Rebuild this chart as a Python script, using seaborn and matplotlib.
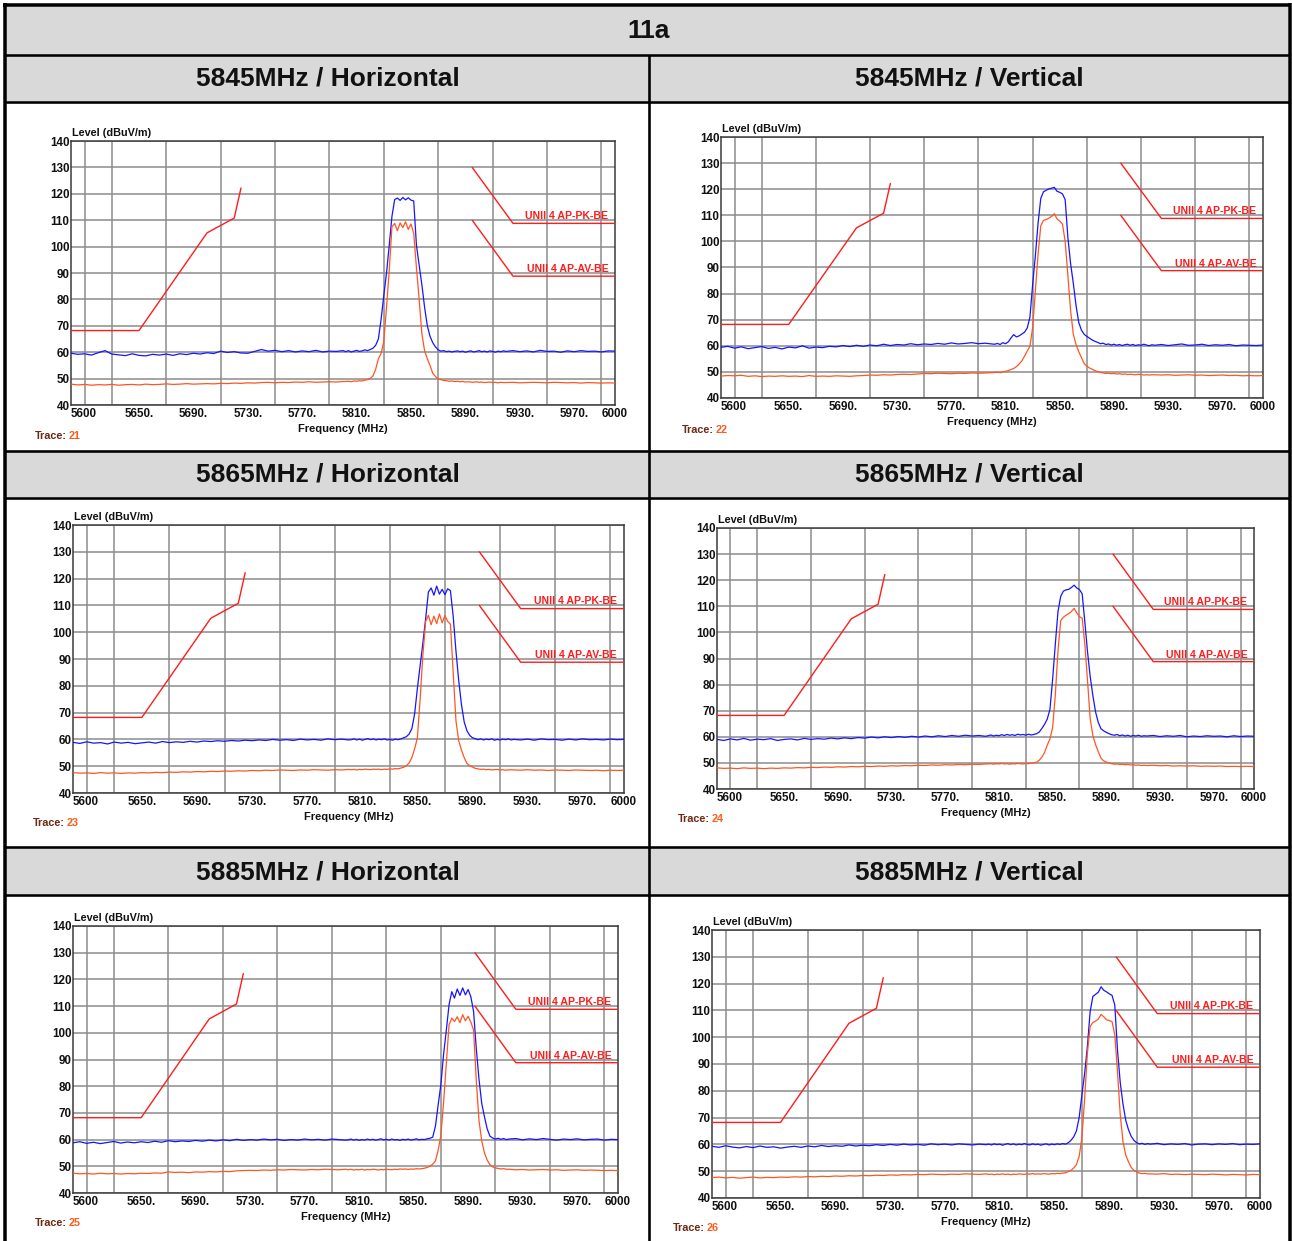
import numpy as np
import pandas as pd
import matplotlib
matplotlib.use("Agg")
import matplotlib.pyplot as plt
import seaborn as sns
from matplotlib.lines import Line2D
from matplotlib.patches import Rectangle

sns.set_theme(style="white")
plt.rcParams["font.family"] = ["Liberation Sans", "DejaVu Sans"]

# Sweep points: 5 MHz steps away from the channels, 2 MHz steps across them
FREQ = np.concatenate([np.arange(5600, 5801, 5),
                       np.arange(5802, 5919, 2),
                       np.arange(5920, 6001, 5)])

X_TICKS = [5600, 5650, 5690, 5730, 5770, 5810, 5850, 5890, 5930, 5970, 6000]
X_TICK_LABELS = ["5600", "5650.", "5690.", "5730.", "5770.", "5810.",
                 "5850.", "5890.", "5930.", "5970.", "6000"]
Y_TICKS = [40, 50, 60, 70, 80, 90, 100, 110, 120, 130, 140]

# Limit lines (dBuV/m)
EDGE_FREQ = [5600, 5650, 5700, 5720, 5725]
EDGE_LEVEL = [68.2, 68.2, 105.2, 110.8, 122.2]
PK_LIM_FREQ = [5895, 5925, 6000]
PK_LIM_LEVEL = [130.0, 108.8, 108.8]
AV_LIM_FREQ = [5895, 5925, 6000]
AV_LIM_LEVEL = [110.0, 88.8, 88.8]

# ---- 5845 MHz, horizontal ----
pk_5845_h = [59.6, 59.2, 59.4, 58.9, 59.8, 60.6, 59.3, 59.0, 58.7, 59.4, 58.8, 58.6, 59.2, 58.9, 59.3, 58.8, 59.4, 59.1, 59.6, 59.3,
             59.8, 59.5, 60.4, 59.9, 60.2, 59.7, 59.6, 60.3, 61.0, 60.4, 60.7, 60.2, 60.6, 60.1, 60.5, 60.2, 60.7, 60.1, 60.4, 60.3, 60.6,
             60.2, 60.6, 60.1, 60.4, 60.7, 60.3, 60.5, 60.9, 60.6, 61.0, 61.5, 62.6, 65.0, 72.4, 81.5, 90.0, 100.5, 111.5, 117.8, 118.4,
             117.5, 118.6, 117.7, 118.5, 117.6, 117.3, 100.5, 93.0, 85.5, 77.0, 70.0, 66.0, 63.6, 62.0, 60.9, 60.4, 60.6, 60.2, 60.4, 60.1,
             60.3, 60.5, 60.2, 60.4, 60.0, 60.3, 60.5, 60.1, 60.3, 60.6, 60.2, 60.4, 60.1, 60.5, 60.3, 60.0, 60.4, 60.2, 60.5,
             60.3, 60.6, 60.2, 60.5, 60.1, 60.7, 60.3, 60.4, 60.0, 60.5, 60.2, 60.6, 60.3, 60.4, 60.1, 60.5, 60.4]
av_5845_h = [47.9, 47.6, 47.8, 47.5, 47.7, 47.6, 47.8, 47.5, 47.7, 47.8, 47.6, 47.9, 47.7, 47.8, 48.0, 47.8, 47.9, 48.1, 47.9, 48.0,
             48.1, 48.0, 48.2, 48.1, 48.3, 48.2, 48.4, 48.3, 48.5, 48.6, 48.4, 48.6, 48.5, 48.7, 48.6, 48.8, 48.6, 48.7, 48.8, 48.7, 48.9,
             48.9, 49.0, 48.8, 49.1, 49.0, 49.2, 49.1, 49.4, 49.6, 50.0, 51.0, 53.5, 57.5, 59.5, 64.0, 77.0, 91.0, 107.5, 108.8, 106.0,
             109.0, 107.2, 109.4, 106.5, 108.6, 105.0, 92.0, 80.0, 67.0, 60.5, 57.5, 55.0, 52.0, 50.8, 49.8, 49.6, 49.3, 49.2, 49.0, 49.1,
             48.9, 49.0, 48.8, 48.9, 48.7, 48.8, 48.7, 48.6, 48.8, 48.6, 48.7, 48.5, 48.6, 48.7, 48.5, 48.6, 48.4, 48.6, 48.5,
             48.5, 48.6, 48.4, 48.5, 48.6, 48.5, 48.4, 48.6, 48.5, 48.4, 48.5, 48.3, 48.5, 48.4, 48.3, 48.4, 48.3]

# ---- 5845 MHz, vertical ----
pk_5845_v = [59.4, 59.8, 59.1, 59.6, 58.9, 59.3, 59.7, 59.0, 59.4, 58.8, 59.5, 59.2, 60.0, 59.1, 59.5, 59.3, 59.8, 59.6, 60.1, 59.7,
             60.2, 59.8, 60.3, 60.0, 60.6, 60.1, 60.5, 60.3, 60.8, 60.4, 60.7, 60.5, 60.9, 60.6, 61.1, 60.7, 60.9, 61.2, 60.8, 61.0, 60.7,
             60.6, 60.9, 60.5, 61.2, 60.8, 61.5, 63.0, 64.3, 63.4, 63.8, 64.5, 65.2, 66.8, 71.0, 83.5, 94.5, 107.0, 116.5, 119.0, 119.6,
             120.1, 120.4, 120.7, 119.2, 118.8, 118.2, 116.0, 101.5, 91.5, 84.0, 75.5, 69.0, 66.0, 64.4, 63.6, 62.9, 62.2, 61.7, 61.3, 60.8,
             61.0, 60.5, 60.7, 60.3, 60.6, 60.2, 60.5, 60.1, 60.4, 60.6, 60.2, 60.5, 60.1, 60.4, 60.2, 60.6, 60.3, 60.0, 60.4,
             60.2, 60.5, 60.1, 60.4, 60.7, 60.2, 60.3, 60.6, 60.1, 60.4, 60.2, 60.5, 60.0, 60.3, 60.2, 60.1, 60.3]
av_5845_v = [48.4, 48.6, 48.5, 48.7, 48.3, 48.5, 48.2, 48.4, 48.3, 48.5, 48.3, 48.4, 48.2, 48.6, 48.3, 48.4, 48.3, 48.5, 48.4, 48.3,
             48.5, 48.6, 48.8, 48.7, 48.9, 48.8, 49.0, 49.1, 49.0, 49.2, 49.4, 49.3, 49.5, 49.4, 49.3, 49.5, 49.4, 49.6, 49.5, 49.6, 49.7,
             49.8, 49.9, 49.7, 50.0, 50.2, 50.5, 50.9, 51.3, 52.0, 53.0, 54.2, 56.0, 58.0, 59.8, 67.0, 81.0, 95.0, 106.0, 108.0, 108.4,
             108.9, 109.6, 110.6, 108.6, 107.8, 106.6, 100.0, 87.0, 73.5, 64.5, 60.5, 57.8, 55.5, 53.2, 52.2, 51.5, 51.0, 50.5, 50.1, 49.8,
             49.6, 49.4, 49.5, 49.3, 49.4, 49.2, 49.3, 49.1, 49.2, 49.0, 49.1, 49.0, 48.9, 49.1, 49.0, 48.8, 48.9, 48.8, 48.9,
             48.9, 48.8, 48.9, 48.7, 48.8, 48.9, 48.7, 48.8, 48.6, 48.7, 48.8, 48.6, 48.7, 48.5, 48.6, 48.5, 48.6]

# ---- 5865 MHz, horizontal ----
pk_5865_h = [58.9, 58.5, 59.1, 58.6, 58.8, 58.3, 59.0, 58.6, 58.9, 58.4, 58.7, 59.0, 58.6, 59.2, 58.8, 59.1, 58.9, 59.3, 59.0, 59.4,
             59.2, 59.5, 59.3, 59.6, 59.4, 59.7, 59.5, 59.8, 59.6, 60.0, 59.7, 59.9, 59.6, 60.1, 59.8, 60.0, 59.7, 60.2, 59.9, 60.1, 59.8,
             59.9, 60.2, 59.8, 60.1, 59.7, 60.0, 60.3, 59.9, 60.2, 59.8, 60.1, 59.9, 60.2, 59.8, 60.0, 59.7, 60.1, 59.9, 60.2, 60.6,
             61.0, 62.0, 64.0, 69.5, 79.0, 87.5, 96.0, 105.0, 115.0, 116.5, 113.8, 117.2, 114.2, 116.0, 114.0, 116.2, 115.5, 106.0, 93.0, 82.0,
             73.0, 66.5, 63.2, 61.5, 60.6, 60.3, 59.9, 60.2, 59.8, 60.1, 59.9, 60.2, 59.7, 60.0, 59.8, 60.1, 59.9, 60.2, 59.8,
             60.0, 59.8, 60.1, 59.7, 60.2, 59.9, 60.0, 59.7, 60.1, 59.8, 60.2, 59.9, 60.0, 59.8, 60.1, 59.9, 60.0]
av_5865_h = [47.6, 47.4, 47.5, 47.3, 47.6, 47.4, 47.5, 47.3, 47.5, 47.4, 47.6, 47.5, 47.7, 47.6, 47.8, 47.7, 47.9, 47.8, 48.0, 47.9,
             48.1, 48.0, 48.2, 48.1, 48.3, 48.2, 48.4, 48.3, 48.5, 48.4, 48.6, 48.5, 48.4, 48.6, 48.5, 48.7, 48.6, 48.5, 48.7, 48.6, 48.8,
             48.7, 48.8, 48.6, 48.8, 48.7, 48.9, 48.8, 48.7, 48.9, 48.8, 48.9, 48.7, 48.9, 48.8, 49.0, 48.9, 49.1, 49.0, 49.3, 49.6,
             50.2, 51.2, 53.2, 56.5, 60.5, 75.0, 91.5, 104.0, 106.3, 102.8, 106.0, 103.2, 106.8, 103.5, 106.2, 104.0, 103.0, 85.0, 67.0, 59.5,
             56.0, 53.2, 51.0, 50.2, 49.7, 49.2, 49.0, 48.8, 48.9, 48.7, 48.8, 48.6, 48.7, 48.8, 48.6, 48.7, 48.5, 48.6, 48.7,
             48.6, 48.5, 48.7, 48.5, 48.6, 48.4, 48.6, 48.5, 48.4, 48.6, 48.5, 48.4, 48.5, 48.3, 48.5, 48.4, 48.5]

# ---- 5865 MHz, vertical ----
pk_5865_v = [59.0, 58.6, 59.2, 58.8, 59.4, 58.7, 59.1, 58.9, 59.3, 58.6, 59.0, 59.2, 58.8, 59.4, 59.0, 59.3, 59.1, 59.5, 59.2, 59.6,
             59.3, 59.7, 59.5, 59.9, 59.6, 60.0, 59.7, 60.1, 59.8, 60.2, 59.9, 60.3, 60.0, 60.4, 60.1, 60.5, 60.2, 60.6, 60.3, 60.5, 60.2,
             60.4, 60.7, 60.3, 60.6, 60.4, 60.8, 60.5, 60.9, 60.6, 60.8, 60.5, 61.0, 60.7, 60.9, 60.6, 61.0, 60.7, 60.9, 61.2, 61.8,
             63.2, 64.8, 66.8, 70.5, 82.0, 95.5, 108.0, 113.8, 115.8, 116.3, 116.5, 117.2, 118.1, 117.0, 116.4, 114.8, 104.0, 92.5, 83.0, 75.7,
             69.5, 65.5, 63.1, 62.3, 61.7, 61.2, 60.8, 60.6, 60.9, 60.4, 60.7, 60.3, 60.6, 60.2, 60.5, 60.3, 60.6, 60.2, 60.4,
             60.3, 60.5, 60.1, 60.4, 60.2, 60.5, 60.0, 60.3, 60.1, 60.4, 60.2, 60.3, 60.0, 60.4, 60.1, 60.3, 60.2]
av_5865_v = [48.1, 47.9, 48.0, 47.8, 48.1, 47.9, 48.0, 47.8, 48.0, 47.9, 48.1, 48.0, 48.2, 48.1, 48.3, 48.2, 48.4, 48.3, 48.5, 48.4,
             48.6, 48.5, 48.7, 48.6, 48.8, 48.7, 48.9, 48.8, 49.0, 48.9, 49.1, 49.0, 49.2, 49.1, 49.3, 49.2, 49.4, 49.3, 49.5, 49.4, 49.6,
             49.6, 49.7, 49.5, 49.7, 49.6, 49.8, 49.6, 49.7, 49.5, 49.7, 49.6, 49.8, 49.7, 49.6, 49.8, 49.7, 49.9, 50.0, 50.3, 51.0,
             52.2, 54.0, 56.8, 59.2, 63.5, 76.0, 93.0, 104.5, 105.8, 106.6, 107.2, 108.0, 109.2, 107.5, 106.0, 105.5, 95.5, 81.5, 66.8, 60.5,
             57.0, 54.3, 51.8, 50.8, 50.3, 49.9, 49.7, 49.5, 49.6, 49.4, 49.5, 49.3, 49.4, 49.2, 49.3, 49.1, 49.2, 49.0, 49.1,
             49.0, 49.1, 48.9, 49.0, 48.8, 48.9, 48.8, 48.9, 48.7, 48.8, 48.7, 48.8, 48.6, 48.7, 48.6, 48.7, 48.6]

# ---- 5885 MHz, horizontal ----
pk_5885_h = [58.8, 59.2, 58.6, 59.0, 58.5, 58.9, 59.3, 58.7, 59.1, 58.8, 59.2, 58.9, 59.4, 59.0, 59.6, 59.2, 59.5, 59.3, 59.7, 59.4,
             59.8, 59.5, 59.9, 59.6, 60.1, 59.7, 60.0, 59.8, 60.2, 59.9, 60.1, 59.7, 60.0, 59.8, 60.2, 59.9, 60.1, 59.8, 60.2, 60.0, 59.8,
             59.9, 60.2, 59.8, 60.1, 59.7, 60.0, 59.8, 60.2, 59.9, 60.1, 59.8, 60.0, 60.3, 59.9, 60.1, 59.8, 60.2, 59.9, 60.0, 59.7,
             60.1, 59.9, 60.2, 59.8, 60.0, 60.3, 59.9, 60.1, 60.0, 60.3, 60.5, 60.9, 65.0, 73.0, 80.6, 92.0, 101.0, 110.5, 115.4, 113.0,
             116.4, 114.0, 116.8, 114.2, 116.2, 113.5, 108.0, 94.0, 82.5, 73.5, 68.5, 64.0, 61.3, 60.6, 60.2, 60.5, 60.1, 60.4, 60.0,
             60.2, 60.4, 59.9, 60.3, 60.0, 60.4, 60.1, 59.8, 60.2, 60.0, 60.3, 59.9, 60.1, 60.2, 59.8, 60.1, 60.0]
av_5885_h = [47.4, 47.2, 47.3, 47.1, 47.4, 47.2, 47.3, 47.1, 47.3, 47.2, 47.4, 47.3, 47.5, 47.4, 47.9, 47.7, 47.8, 47.6, 47.9, 47.8,
             48.0, 47.9, 48.1, 48.0, 48.3, 48.4, 48.5, 48.4, 48.6, 48.5, 48.7, 48.6, 48.8, 48.7, 48.6, 48.8, 48.7, 48.9, 48.8, 48.7, 48.9,
             48.7, 48.9, 48.6, 48.8, 48.7, 48.9, 48.6, 48.8, 48.7, 48.9, 48.8, 48.6, 48.8, 48.7, 48.9, 48.8, 48.7, 48.9, 48.8, 49.0,
             48.9, 49.0, 48.8, 49.0, 48.9, 49.1, 49.0, 49.1, 49.3, 49.6, 50.0, 50.8, 52.0, 56.0, 61.5, 74.0, 88.5, 103.0, 105.5, 104.2,
             106.0, 103.8, 106.8, 104.5, 106.2, 104.0, 101.0, 82.0, 67.0, 59.5, 55.0, 52.3, 50.6, 49.8, 49.4, 49.2, 49.0, 49.1, 48.9,
             48.9, 48.7, 48.8, 48.6, 48.7, 48.8, 48.6, 48.7, 48.5, 48.6, 48.7, 48.5, 48.6, 48.5, 48.4, 48.5, 48.4]

# ---- 5885 MHz, vertical ----
pk_5885_v = [59.3, 58.9, 59.5, 59.0, 58.7, 59.2, 58.8, 59.4, 58.9, 59.1, 58.6, 59.0, 59.3, 58.9, 59.4, 59.1, 59.6, 59.2, 59.5, 59.3,
             59.8, 59.4, 59.7, 59.5, 59.9, 59.6, 60.0, 59.7, 60.1, 59.8, 60.0, 59.7, 60.2, 59.9, 60.1, 59.8, 60.2, 60.0, 59.8, 60.1, 59.9,
             60.1, 59.8, 60.2, 59.9, 60.1, 59.7, 60.0, 60.3, 59.9, 60.2, 59.8, 60.1, 59.9, 60.3, 60.0, 59.8, 60.2, 59.9, 60.1, 59.7,
             60.0, 60.2, 59.8, 60.1, 59.9, 60.2, 60.0, 60.3, 60.1, 60.6, 61.5, 62.8, 65.0, 70.0, 78.5, 86.5, 96.5, 109.5, 115.2, 116.0,
             116.8, 118.8, 117.5, 116.9, 116.2, 115.6, 112.0, 95.0, 83.0, 75.0, 69.0, 65.5, 63.0, 61.5, 60.6, 60.2, 60.4, 60.0, 60.3,
             60.1, 60.4, 59.9, 60.2, 60.0, 60.3, 59.8, 60.1, 60.2, 59.9, 60.2, 60.0, 60.3, 59.9, 60.1, 60.0, 60.2]
av_5885_v = [47.6, 47.8, 47.5, 47.7, 47.4, 47.6, 47.8, 47.5, 47.7, 47.6, 47.8, 47.7, 47.9, 47.8, 48.0, 47.9, 48.1, 48.0, 48.2, 48.1,
             48.3, 48.2, 48.4, 48.3, 48.5, 48.4, 48.6, 48.5, 48.7, 48.6, 48.8, 48.7, 48.9, 48.8, 48.7, 48.9, 48.8, 49.0, 48.9, 48.8, 49.0,
             48.8, 48.9, 48.7, 48.9, 48.8, 49.0, 48.8, 48.9, 48.7, 48.9, 48.8, 49.0, 48.9, 48.8, 49.0, 48.9, 49.1, 48.9, 49.0, 48.9,
             49.1, 49.0, 48.9, 49.1, 49.0, 49.2, 49.1, 49.3, 49.4, 49.8, 50.3, 51.2, 52.5, 55.5, 62.5, 77.0, 94.0, 104.0, 105.5, 106.0,
             106.8, 108.5, 107.6, 106.5, 106.2, 105.8, 101.0, 87.0, 71.0, 61.0, 56.0, 53.5, 51.4, 50.3, 49.7, 49.3, 49.1, 49.2, 49.0,
             49.0, 48.9, 49.1, 48.8, 48.9, 48.7, 48.9, 48.8, 48.7, 48.9, 48.8, 48.6, 48.8, 48.7, 48.6, 48.8, 48.7]

HEADERS = [["5845MHz / Horizontal", "5845MHz / Vertical"],
           ["5865MHz / Horizontal", "5865MHz / Vertical"],
           ["5885MHz / Horizontal", "5885MHz / Vertical"]]
TRACE_IDS = ["21", "22", "23", "24", "25", "26"]
PEAK_SERIES = [pk_5845_h, pk_5845_v, pk_5865_h, pk_5865_v, pk_5885_h, pk_5885_v]
AVG_SERIES = [av_5845_h, av_5845_v, av_5865_h, av_5865_v, av_5885_h, av_5885_v]

# Page geometry in pixels
W, H = 1292, 1241
AX_BOXES = [(71, 141, 615, 405), (721, 137, 1263, 398),
            (73, 525, 624, 793), (717, 528, 1254, 789),
            (73, 926, 618, 1193), (712, 930, 1260, 1198)]
TRACE_POS = [(35, 436), (682, 430), (33, 823), (678, 819), (35, 1223), (673, 1228)]

BLUE = "#1515ff"
ORANGE = "#ff5522"
RED = "#ff1c1c"
GRID = "#8c8c8c"
HEAD_FILL = "#d9d9d9"

fig = plt.figure(figsize=(W / 100, H / 100), dpi=100)
fig.patch.set_facecolor("white")


def fx(px):
    return px / W


def fy(py):
    return 1 - py / H


def hline(y, x0, x1, lw):
    fig.add_artist(Line2D([fx(x0), fx(x1)], [fy(y), fy(y)], color="black", lw=lw * 0.72,
                          transform=fig.transFigure, solid_capstyle="butt"))


def vline(x, y0, y1, lw):
    fig.add_artist(Line2D([fx(x), fx(x)], [fy(y0), fy(y1)], color="black", lw=lw * 0.72,
                          transform=fig.transFigure, solid_capstyle="butt"))


def band(y0, y1):
    fig.add_artist(Rectangle((fx(6), fy(y1)), fx(1288) - fx(6), fy(y0) - fy(y1),
                             transform=fig.transFigure, facecolor=HEAD_FILL, edgecolor="none", zorder=0))


# Table: title band, three header bands, borders
band(6, 54)
for y0, y1 in [(56, 101), (452, 497), (848, 894)]:
    band(y0, y1)

hline(5, 3, 1291, 3.5)
for y in [55, 102, 451, 497.5, 847, 895]:
    hline(y, 5, 1289, 2.6)
vline(5, 3, H, 3.5)
vline(1289.5, 3, H, 3.5)
vline(649, 55, H, 2.6)

fig.text(fx(649), fy(31), "11a", ha="center", va="center", fontsize=19, fontweight="bold", color="#111111")
HEADER_Y = [79, 475, 872]
for r, row in enumerate(HEADERS):
    for c, txt in enumerate(row):
        cx = 328 if c == 0 else 969
        fig.text(fx(cx), fy(HEADER_Y[r]), txt, ha="center", va="center",
                 fontsize=19, fontweight="bold", color="#111111")

for k, (x0, y0, x1, y1) in enumerate(AX_BOXES):
    ax = fig.add_axes([fx(x0), fy(y1), (x1 - x0) / W, (y1 - y0) / H])
    ax.set_facecolor("white")

    sns.lineplot(x=FREQ, y=PEAK_SERIES[k], ax=ax, color=BLUE, lw=0.9, estimator=None, sort=False, zorder=3)
    sns.lineplot(x=FREQ, y=AVG_SERIES[k], ax=ax, color=ORANGE, lw=0.9, estimator=None, sort=False, zorder=4)
    sns.lineplot(x=EDGE_FREQ, y=EDGE_LEVEL, ax=ax, color=RED, lw=1.0, estimator=None, sort=False, zorder=5)
    sns.lineplot(x=PK_LIM_FREQ, y=PK_LIM_LEVEL, ax=ax, color=RED, lw=1.0, estimator=None, sort=False, zorder=5)
    sns.lineplot(x=AV_LIM_FREQ, y=AV_LIM_LEVEL, ax=ax, color=RED, lw=1.0, estimator=None, sort=False, zorder=5)

    ax.text(5995, PK_LIM_LEVEL[-1] + 0.8, "UNII 4 AP-PK-BE", ha="right", va="bottom",
            fontsize=7.6, fontweight="bold", color=RED, zorder=6)
    ax.text(5995, AV_LIM_LEVEL[-1] + 0.8, "UNII 4 AP-AV-BE", ha="right", va="bottom",
            fontsize=7.6, fontweight="bold", color=RED, zorder=6)

    ax.set_xlim(5600, 6000)
    ax.set_ylim(40, 140)
    ax.set_xticks(X_TICKS)
    ax.set_xticklabels(X_TICK_LABELS)
    ax.set_xticks(np.arange(5610, 6000, 20), minor=True)
    ax.set_yticks(Y_TICKS)
    ax.set_yticklabels([str(v) for v in Y_TICKS])
    ax.grid(False)
    ax.grid(True, which="minor", axis="x", color=GRID, lw=1.1)
    ax.grid(True, which="major", axis="y", color=GRID, lw=1.1)
    ax.set_axisbelow(True)
    ax.tick_params(which="both", length=0)
    ax.tick_params(axis="x", pad=2, labelsize=8.4, colors="#111111")
    ax.tick_params(axis="y", pad=1, labelsize=8.4, colors="#111111")
    for lab in ax.get_xticklabels() + ax.get_yticklabels():
        lab.set_fontweight("bold")
    ax.get_xticklabels()[0].set_ha("left")
    for s in ax.spines.values():
        s.set_visible(True)
        s.set_color("#3a3a3a")
        s.set_linewidth(1.1)

    ax.set_xlabel("Frequency (MHz)", fontsize=8, fontweight="bold", labelpad=3, color="#111111")
    ax.set_ylabel("")
    ax.annotate("Level (dBuV/m)", xy=(0, 1), xycoords="axes fraction", xytext=(1, 2),
                textcoords="offset points", ha="left", va="bottom",
                fontsize=7.8, fontweight="bold", color="#111111")

    tx, ty = TRACE_POS[k]
    t = fig.text(fx(tx), fy(ty), "Trace:", ha="left", va="center", fontsize=7.8,
                 fontweight="bold", color="#6a2a14")
    ax.annotate(TRACE_IDS[k], xy=(1, 0), xycoords=t, xytext=(1.2, 0), textcoords="offset points",
                ha="left", va="bottom", fontsize=7.8, fontweight="bold", color="#ff5a1a",
                annotation_clip=False)

fig.savefig("out.png", dpi=100, facecolor="white")
